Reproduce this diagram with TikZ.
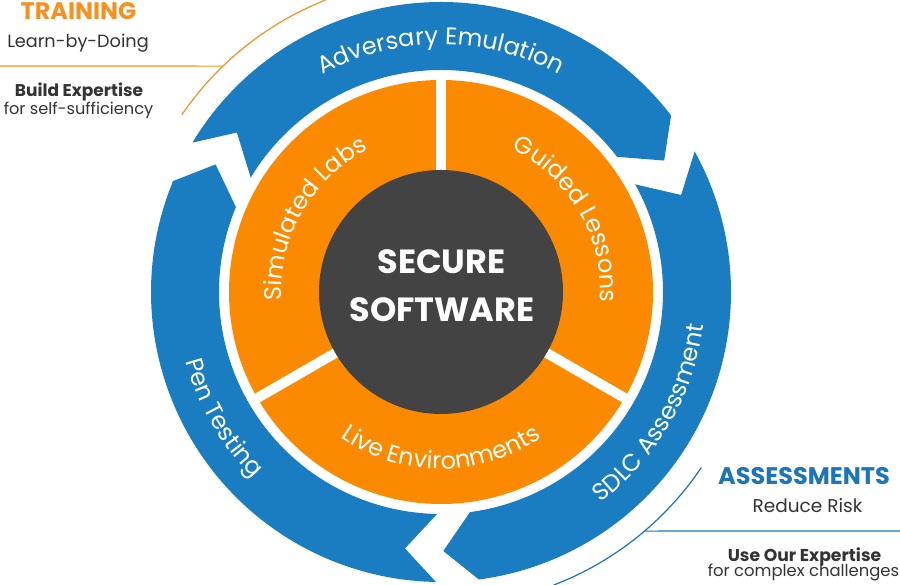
\documentclass[tikz,border=0pt]{standalone}
\usepackage{fontspec}
\setmainfont{Poppins}
\usetikzlibrary{decorations.text}
\definecolor{ringblue}{HTML}{1A7DC1}
\definecolor{ringorange}{HTML}{FB8A00}
\definecolor{coregray}{HTML}{434343}
\definecolor{txtdark}{HTML}{333333}
\definecolor{headorange}{HTML}{F7901E}
\definecolor{headblue}{HTML}{1A75BB}
\newcommand\ringfont{\fontsize{24}{24}\selectfont\color{white}}
\tikzset{
  seg/.style={fill=ringblue},
  sep/.style={draw=white, line width=10pt},
  ringtext/.style={decorate, decoration={text along path, text align=center, text={|\ringfont|#1}}},
  sidetext/.style={anchor=base, text=txtdark},
}
\begin{document}
\begin{tikzpicture}[x=1pt,y=1pt]
\useasboundingbox (0,0) rectangle (900,585);
\fill[white] (0,0) rectangle (900,585);
\coordinate (c) at (441,293);
\begin{scope}[shift={(c)}]
  % blue arrow segments
  \fill[seg] (149:290pt) arc[start angle=149, end angle=37.5, radius=290pt] -- (30.5:259pt) -- (37.5:222pt)
     arc[start angle=37.5, end angle=149, radius=222pt] -- (142:259pt) -- cycle;
  \fill[seg] (29:290pt) arc[start angle=29, end angle=-82.5, radius=290pt] -- (-89.5:259pt) -- (-82.5:222pt)
     arc[start angle=-82.5, end angle=29, radius=222pt] -- (22:259pt) -- cycle;
  \fill[seg] (269:290pt) arc[start angle=269, end angle=157.5, radius=290pt] -- (150.5:259pt) -- (157.5:222pt)
     arc[start angle=157.5, end angle=269, radius=222pt] -- (262:259pt) -- cycle;
  % orange ring
  \fill[ringorange] (0,0) circle[radius=212pt];
  \draw[sep] (90:100pt) -- (90:216pt);
  \draw[sep] (210:100pt) -- (210:216pt);
  \draw[sep] (330:100pt) -- (330:216pt);
  \fill[coregray] (0,0) circle[radius=122pt];
  % ring texts
  \path[ringtext={Adversary Emulation}] (165:247.5pt) arc[start angle=165, end angle=15, radius=247.5pt];
  \path[ringtext={SDLC Assessment}] (255:264.5pt) arc[start angle=255, end angle=405, radius=264.5pt];
  \path[ringtext={Pen Testing}] (135:264.5pt) arc[start angle=135, end angle=285, radius=264.5pt];
  \path[ringtext={Simulated Labs}] (225:159.5pt) arc[start angle=225, end angle=75, radius=159.5pt];
  \path[ringtext={Guided Lessons}] (105:159.5pt) arc[start angle=105, end angle=-45, radius=159.5pt];
  \path[ringtext={Live Environments}] (190:177pt) arc[start angle=190, end angle=350, radius=177pt];
  % side lines
  \draw[headorange, line width=1.2pt] (-441,226) -- (134:314pt);
  \draw[headorange, line width=1.2pt] (145.6:314pt) arc[start angle=145.6, end angle=111.6, radius=314pt];
  \draw[headblue, line width=1.2pt] (459,-239) -- (-49.6:314pt);
  \draw[headblue, line width=1.2pt] (-34:314pt) arc[start angle=-34, end angle=-69, radius=314pt];
\end{scope}
% center text
\node[anchor=base, text=white, font=\bfseries\fontsize{33.5}{33.5}\selectfont] (sec) at (441.5,311) {SECURE};
\node[anchor=base, text=white, font=\bfseries\fontsize{33.5}{33.5}\selectfont] (sw) at (442,263) {SOFTWARE};
% training text
\node[anchor=base, text=headorange, font=\bfseries\fontsize{23.9}{23.9}\selectfont] (tr) at (78.5,565) {TRAINING};
\node[sidetext, font=\fontsize{17.7}{17.7}\selectfont] (lbd) at (78,537) {Learn-by-Doing};
\node[sidetext, font=\bfseries\fontsize{17}{17}\selectfont] (be) at (79,488.3) {Build Expertise};
\node[sidetext, font=\fontsize{16.2}{16.2}\selectfont] (fss) at (78.5,470.5) {for self-sufficiency};
% assessments text
\node[anchor=base, text=headblue, font=\bfseries\fontsize{24}{24}\selectfont] (as) at (804,100.7) {ASSESSMENTS};
\node[sidetext, font=\fontsize{18.5}{18.5}\selectfont] (rr) at (807.5,72.3) {Reduce Risk};
\node[sidetext, font=\bfseries\fontsize{17.2}{17.2}\selectfont] (uoe) at (804.5,23.3) {Use Our Expertise};
\node[sidetext, font=\fontsize{16.4}{16.4}\selectfont] (fcc) at (803.5,8.3) {for complex challenges};
\end{tikzpicture}
\end{document}
